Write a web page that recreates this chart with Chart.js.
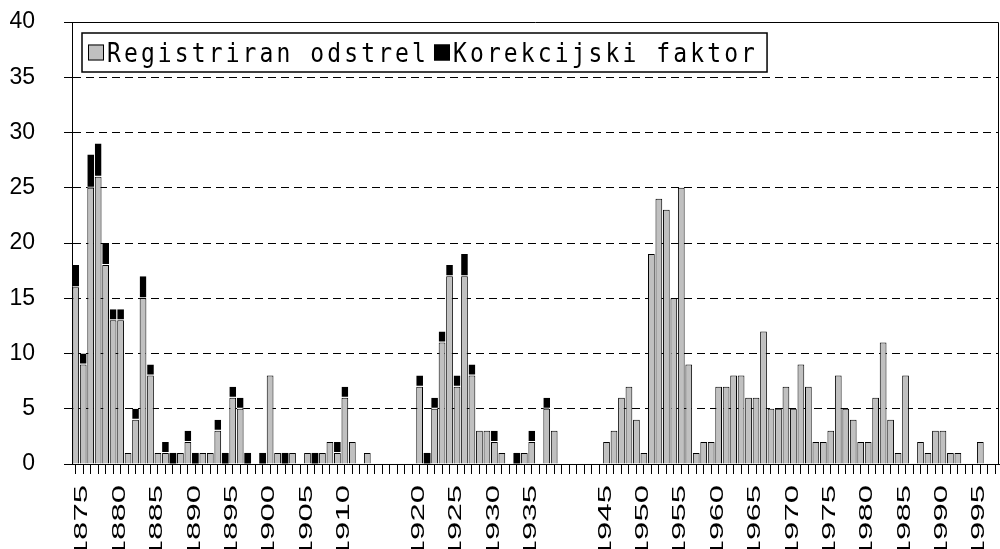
<!DOCTYPE html>
<html>
<head>
<meta charset="utf-8">
<script src="https://cdn.jsdelivr.net/npm/chart.js@4/dist/chart.umd.min.js"></script>
<style>
html,body{margin:0;padding:0;background:#fff;overflow:hidden}
canvas{display:block}
</style>
</head>
<body>
<canvas id="c" width="1000" height="549"></canvas>
<script>
// ---- data ----
const years = [
  1875,1876,1877,1878,1879,1880,1881,1882,1883,1884,
  1885,1886,1887,1888,1889,1890,1891,1892,1893,1894,
  1895,1896,1897,1898,1899,1900,1901,1902,1903,1904,
  1905,1906,1907,1908,1909,1910,1911,1912,1913,1914,
  1915,1916,1917,1918,1919,1920,1921,1922,1923,1924,
  1925,1926,1927,1928,1929,1930,1931,1932,1933,1934,
  1935,1936,1937,1938,1939,1940,1941,1942,1943,1944,
  1945,1946,1947,1948,1949,1950,1951,1952,1953,1954,
  1955,1956,1957,1958,1959,1960,1961,1962,1963,1964,
  1965,1966,1967,1968,1969,1970,1971,1972,1973,1974,
  1975,1976,1977,1978,1979,1980,1981,1982,1983,1984,
  1985,1986,1987,1988,1989,1990,1991,1992,1993,1994,
  1995,1996,1997,1998
];
const registriran = [
  16,9,25,26,18,13,13,1,4,15,
  8,1,1,0,1,2,0,1,1,3,
  0,6,5,0,0,0,8,1,0,1,
  0,1,0,1,2,1,6,2,0,1,
  0,0,0,0,0,0,7,0,5,11,
  17,7,17,8,3,3,2,1,0,0,
  1,2,0,5,3,0,0,0,0,0,
  0,2,3,6,7,4,1,19,24,23,
  15,25,9,1,2,2,7,7,8,8,
  6,6,12,5,5,7,5,9,7,2,
  2,3,8,5,4,2,2,6,11,4,
  1,8,0,2,1,3,3,1,1,0,
  0,2,0,0
];
const korekcija = [
  2,1,3,3,2,1,1,0,1,2,
  1,0,1,1,0,1,1,0,0,1,
  1,1,1,1,0,1,0,0,1,0,
  0,0,1,0,0,1,1,0,0,0,
  0,0,0,0,0,0,1,1,1,1,
  1,1,2,1,0,0,1,0,0,1,
  0,1,0,1,0,0,0,0,0,0,
  0,0,0,0,0,0,0,0,0,0,
  0,0,0,0,0,0,0,0,0,0,
  0,0,0,0,0,0,0,0,0,0,
  0,0,0,0,0,0,0,0,0,0,
  0,0,0,0,0,0,0,0,0,0,
  0,0,0,0
];
const tickLabels = ['1875','1880','1885','1890','1895','1900','1905','1910',
  '1920','1925','1930','1935',
  '1945','1950','1955','1960','1965','1970','1975','1980','1985','1990','1995'];
const yTicks = [0,5,10,15,20,25,30,35,40];
const seriesNames = ['Registriran odstrel','Korekcijski faktor'];

Chart.defaults.font.family = "'Liberation Sans', Arial, sans-serif";
Chart.defaults.color = '#000';

// ---- plugins ----
const framePlugin = {
  id: 'frame',
  afterDraw(chart) {
    const {ctx, chartArea: ca} = chart;
    ctx.save();
    ctx.strokeStyle = '#000';
    ctx.lineWidth = 1;
    ctx.beginPath();
    ctx.moveTo(Math.floor(ca.left) + 0.5, Math.floor(ca.top) + 0.5);
    ctx.lineTo(Math.floor(ca.right) - 0.5, Math.floor(ca.top) + 0.5);
    ctx.lineTo(Math.floor(ca.right) - 0.5, Math.floor(ca.bottom) + 0.5);
    ctx.stroke();
    ctx.restore();
  }
};

const xLabelPlugin = {
  id: 'xLabels',
  afterDraw(chart) {
    const {ctx} = chart;
    const xs = chart.scales.x;
    const fs = 18.6;
    ctx.save();
    ctx.fillStyle = '#000';
    ctx.font = fs + "px 'Liberation Sans', Arial, sans-serif";
    ctx.textAlign = 'right';
    ctx.textBaseline = 'alphabetic';
    years.forEach((yr, i) => {
      const lab = String(yr);
      if (!tickLabels.includes(lab)) return;
      const px = xs.getPixelForValue(i) + 5;
      ctx.save();
      ctx.translate(px, xs.top + 21);
      ctx.rotate(-Math.PI / 2);
      ctx.scale(1.77, 1);
      ctx.fillText(lab, 0, 0.358 * fs);
      ctx.restore();
    });
    ctx.restore();
  }
};

const legendPlugin = {
  id: 'legendBox',
  afterDraw(chart) {
    const {ctx, chartArea: ca} = chart;
    const ds = chart.data.datasets;
    ctx.save();
    ctx.font = "23px 'DejaVu Sans Mono', monospace";
    if ('letterSpacing' in ctx) ctx.letterSpacing = '3.1px';
    const x0 = Math.round(ca.left) + 10, y0 = Math.round(ca.top) + 11, h = 39, sq = 16;
    const items = ds.map(d => ({label: d.label, color: d.backgroundColor, w: ctx.measureText(d.label).width}));
    let total = 6;
    items.forEach((it, i) => { total += sq + 3 + it.w + (i < items.length - 1 ? 5 : 9); });
    ctx.fillStyle = '#fff';
    ctx.fillRect(x0, y0, total, h);
    ctx.lineWidth = 1.5;
    ctx.strokeStyle = '#000';
    ctx.strokeRect(x0, y0, total, h);
    const cy = y0 + h / 2;
    let x = x0 + 6;
    items.forEach(it => {
      ctx.fillStyle = it.color;
      ctx.fillRect(x, cy - 8, sq, sq);
      ctx.lineWidth = 1;
      ctx.strokeStyle = '#000';
      ctx.strokeRect(x + 0.5, cy - 7.5, sq - 1, sq - 1);
      x += sq + 3;
      ctx.save();
      ctx.translate(x, cy + 9);
      ctx.scale(1, 1.15);
      ctx.fillStyle = '#000';
      ctx.textBaseline = 'alphabetic';
      ctx.fillText(it.label, 0, 0);
      ctx.restore();
      x += it.w + 5;
    });
    ctx.restore();
  }
};

// ---- chart ----
new Chart(document.getElementById('c'), {
  type: 'bar',
  data: {
    labels: years.map(String),
    datasets: [
      {
        label: seriesNames[0],
        data: registriran.map(v => v === 0 ? null : v),
        backgroundColor: '#c0c0c0',
        borderColor: '#000',
        borderWidth: 1,
        barPercentage: 0.9,
        categoryPercentage: 1.0
      },
      {
        label: seriesNames[1],
        data: korekcija.map(v => v === 0 ? null : v),
        backgroundColor: '#000',
        borderColor: '#fff',
        borderSkipped: false,
        borderWidth: c => (registriran[c.dataIndex] > 0 ? {top: 0, left: 0, right: 0, bottom: 1} : 0),
        barPercentage: 0.9,
        categoryPercentage: 1.0
      }
    ]
  },
  options: {
    responsive: false,
    animation: false,
    events: [],
    layout: { padding: { left: 6.5, top: 22, right: 1, bottom: 75 } },
    plugins: { legend: { display: false }, tooltip: { enabled: false } },
    scales: {
      x: {
        stacked: true,
        offset: true,
        ticks: { display: false, autoSkip: false },
        grid: { display: true, drawOnChartArea: false, offset: false, color: '#000', tickColor: '#000', tickLength: 10, lineWidth: 1 },
        border: { display: true, color: '#000', width: 1 }
      },
      y: {
        stacked: true,
        min: yTicks[0],
        max: yTicks[yTicks.length - 1],
        afterBuildTicks: (axis) => { axis.ticks = yTicks.map(v => ({value: v})); },
        afterFit: (axis) => { axis.width = 65.5; axis.paddingTop = 12; axis.paddingBottom = 12; },
        ticks: { padding: 29, color: '#000', font: { size: 23 } },
        grid: {
          color: c => (c.tick && (c.tick.value === yTicks[0] || c.tick.value === yTicks[yTicks.length - 1])) ? 'rgba(0,0,0,0)' : '#000',
          tickColor: '#000',
          tickLength: 8,
          lineWidth: 1
        },
        border: { display: true, color: '#000', width: 1, dash: [8, 5] }
      }
    }
  },
  plugins: [framePlugin, xLabelPlugin, legendPlugin]
});
</script>
</body>
</html>
